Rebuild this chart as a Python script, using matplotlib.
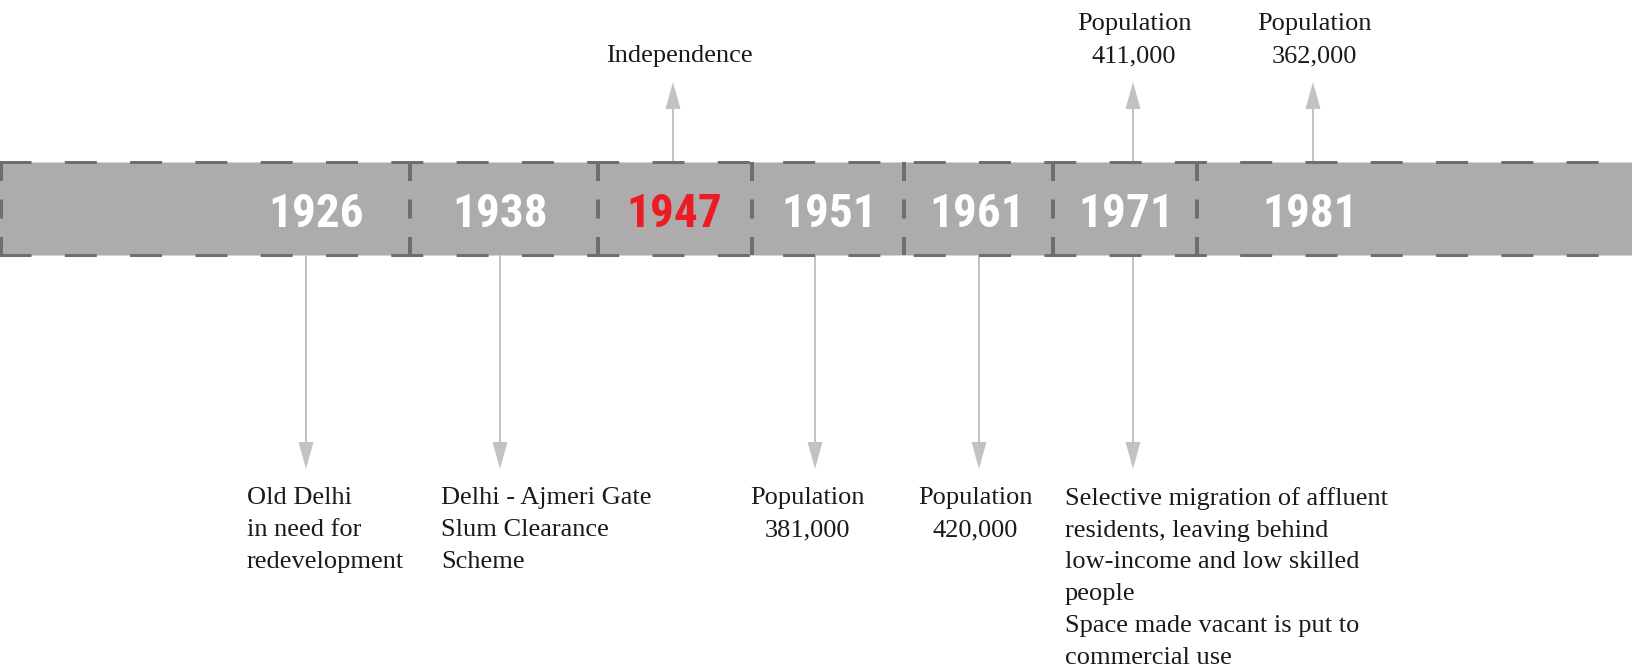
import matplotlib
matplotlib.use("Agg")
import matplotlib.pyplot as plt
from matplotlib.patches import Rectangle
from matplotlib import font_manager

# ---------------- data ----------------
years = ["1926", "1938", "1947", "1951", "1961", "1971", "1981"]
highlight_year = "1947"

up_years = ["1947", "1971", "1981"]
up_texts = ["Independence", "Population\n411,000", "Population\n362,000"]

down_years = ["1926", "1938", "1951", "1961", "1971"]
down_texts = [
    "Old Delhi\nin need for\nredevelopment",
    "Delhi - Ajmeri Gate\nSlum Clearance\nScheme",
    "Population\n381,000",
    "Population\n420,000",
    "Selective migration of affluent\nresidents, leaving behind\nlow-income and low skilled\npeople\nSpace made vacant is put to\ncommercial use",
]

# ---------------- layout (pixel coordinates) ----------------
W, H = 1632, 671
band_top, band_bot = 162, 255
dividers_x = [1, 410, 598, 752, 904, 1053, 1197]
year_label_x = [316, 500, 674, 829, 977, 1126, 1310]
arrow_x = {"1926": 306, "1938": 500, "1947": 673, "1951": 815,
           "1961": 979, "1971": 1133, "1981": 1313}
# (x, first-line baseline, alignment)
up_text_pos = {"1947": (679, 62, "center"), "1971": (1134, 30, "center"),
               "1981": (1314, 30, "center")}
down_text_pos = {"1926": (247, 504, "left"), "1938": (441, 504, "left"),
                 "1951": (807, 504, "center"), "1961": (975, 504, "center"),
                 "1971": (1065, 504, "left")}
line_step = 32

band_color = "#ADABAC"
dash_color = "#6D6E71"
arrow_color = "#C2C2C4"
red = "#ED1C24"
text_color = "#1A1A1A"

plt.rcParams["lines.scale_dashes"] = False

avail = {f.name for f in font_manager.fontManager.ttflist}
year_font = None
for cand in ["Liberation Sans Narrow", "Roboto Condensed", "DejaVu Sans"]:
    if cand in avail:
        year_font = cand
        break
serif_font = "Liberation Serif" if "Liberation Serif" in avail else "DejaVu Serif"

fig = plt.figure(figsize=(W / 100, H / 100), dpi=100)
ax = fig.add_axes([0, 0, 1, 1])
ax.set_xlim(0, W)
ax.set_ylim(H, 0)
ax.axis("off")

px = 72 / 100.0  # points per pixel

# band
ax.add_patch(Rectangle((-10, band_top), W + 20, band_bot - band_top,
                       facecolor=band_color, edgecolor="none", zorder=1))
for y in (band_top, band_bot):
    ax.plot([-15, W + 10], [y, y], color="#D4D4D4", lw=1 * px, zorder=2)
    ax.plot([-15, W + 10], [y, y], color=dash_color, lw=3 * px,
            dashes=(32 * px, 33.3 * px), zorder=3, solid_capstyle="butt")

# vertical dashed dividers
for x in dividers_x:
    ax.plot([x, x], [band_top, band_bot], color=dash_color, lw=4 * px,
            dashes=(19 * px, 18.5 * px), zorder=3)

# year labels
for y_lbl, x in zip(years, year_label_x):
    ax.text(x, 227, y_lbl, ha="center", va="baseline",
            fontsize=34, fontweight="bold", family=year_font,
            color=red if y_lbl == highlight_year else "white", zorder=4)

# arrows
def draw_arrow(x, y0, y1):
    ax.arrow(x, y0, 0, y1 - y0, width=2, head_width=15, head_length=27,
             length_includes_head=True, fc=arrow_color, ec="none", zorder=2)

def draw_text(pos, txt):
    tx, ty, ha = pos
    n = txt.count("\n")
    ax.text(tx, ty + n * line_step, txt, ha=ha, va="baseline", fontsize=19,
            family=serif_font, color=text_color, linespacing=1.58,
            multialignment=ha)

for yr, txt in zip(up_years, up_texts):
    draw_arrow(arrow_x[yr], band_top, 82)
    draw_text(up_text_pos[yr], txt)

for yr, txt in zip(down_years, down_texts):
    draw_arrow(arrow_x[yr], band_bot, 469)
    draw_text(down_text_pos[yr], txt)

fig.savefig("out.png", dpi=100)
